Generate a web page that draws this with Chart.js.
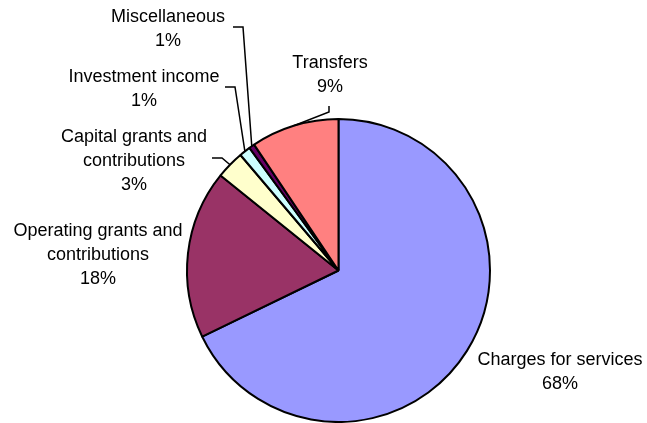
<!DOCTYPE html>
<html>
<head>
<meta charset="utf-8">
<script src="https://cdn.jsdelivr.net/npm/chart.js@4"></script>
<style>
  html, body { margin: 0; padding: 0; background: #fff; }
  #wrap { width: 647px; height: 423px; }
</style>
</head>
<body>
<div id="wrap"><canvas id="pie_chart" width="647" height="423"></canvas></div>
<script>
// revenue sources, clockwise from 12 o'clock
const categories = [
    ['Charges for services'],
    ['Operating grants and', 'contributions'],
    ['Capital grants and', 'contributions'],
    ['Investment income'],
    ['Miscellaneous'],
    ['Transfers']
];
const shares = [67.8, 18.0, 3.0, 1.2, 0.6, 9.4];
const pct_labels = ['68%', '18%', '3%', '1%', '1%', '9%'];
const colours = ['#9999FF', '#993366', '#FFFFCC', '#CCFFFF', '#660066', '#FF8080'];

// where the label text sits (centre x, first baseline) and leader elbows
const label_pos = [
    { x: 560, y: 365 },
    { x: 98, y: 236 },
    { x: 134, y: 142 },
    { x: 144, y: 82 },
    { x: 168, y: 22 },
    { x: 330, y: 68 }
];
const leaders = [
    null,
    null,
    [[212, 158], [222, 158]],
    [[225, 87], [235, 87]],
    [[233, 27], [243, 27]],
    [[329, 106], [329, 112]]
];

const labelPlugin = {
    id: 'pieLabels',
    afterDatasetsDraw(chart) {
        const ctx = chart.ctx;
        const arcs = chart.getDatasetMeta(0).data;
        ctx.save();
        // leader lines first
        ctx.strokeStyle = '#000';
        ctx.lineWidth = 1.5;
        arcs.forEach(function (arc, i) {
            if (!leaders[i]) return;
            const p = arc.getProps(['x', 'y', 'startAngle', 'endAngle', 'outerRadius'], true);
            const mid = (p.startAngle + p.endAngle) / 2;
            const ex = p.x + Math.cos(mid) * p.outerRadius;
            const ey = p.y + Math.sin(mid) * p.outerRadius;
            ctx.beginPath();
            ctx.moveTo(leaders[i][0][0], leaders[i][0][1]);
            ctx.lineTo(leaders[i][1][0], leaders[i][1][1]);
            ctx.lineTo(ex, ey);
            ctx.stroke();
        });
        // text
        ctx.fillStyle = '#000';
        ctx.font = '18px "Liberation Sans", Arial, sans-serif';
        ctx.textAlign = 'center';
        ctx.textBaseline = 'alphabetic';
        for (var i = 0; i < categories.length; i++) {
            const lines = categories[i].concat([pct_labels[i]]);
            for (var j = 0; j < lines.length; j++) {
                ctx.fillText(lines[j], label_pos[i].x, label_pos[i].y + j * 24);
            }
        }
        ctx.restore();
    }
};

var canvas = document.getElementById('pie_chart');
var chart = new Chart(canvas, {
    type: 'pie',
    data: {
        labels: categories.map(function (c) { return c.join(' '); }),
        datasets: [{
            data: shares,
            backgroundColor: colours,
            borderColor: '#000',
            borderWidth: 2
        }]
    },
    options: {
        responsive: false,
        animation: false,
        layout: {
            padding: { top: 118, bottom: 0, left: 186, right: 156 }
        },
        plugins: {
            legend: { display: false },
            tooltip: { enabled: false }
        }
    },
    plugins: [labelPlugin]
});
</script>
</body>
</html>
